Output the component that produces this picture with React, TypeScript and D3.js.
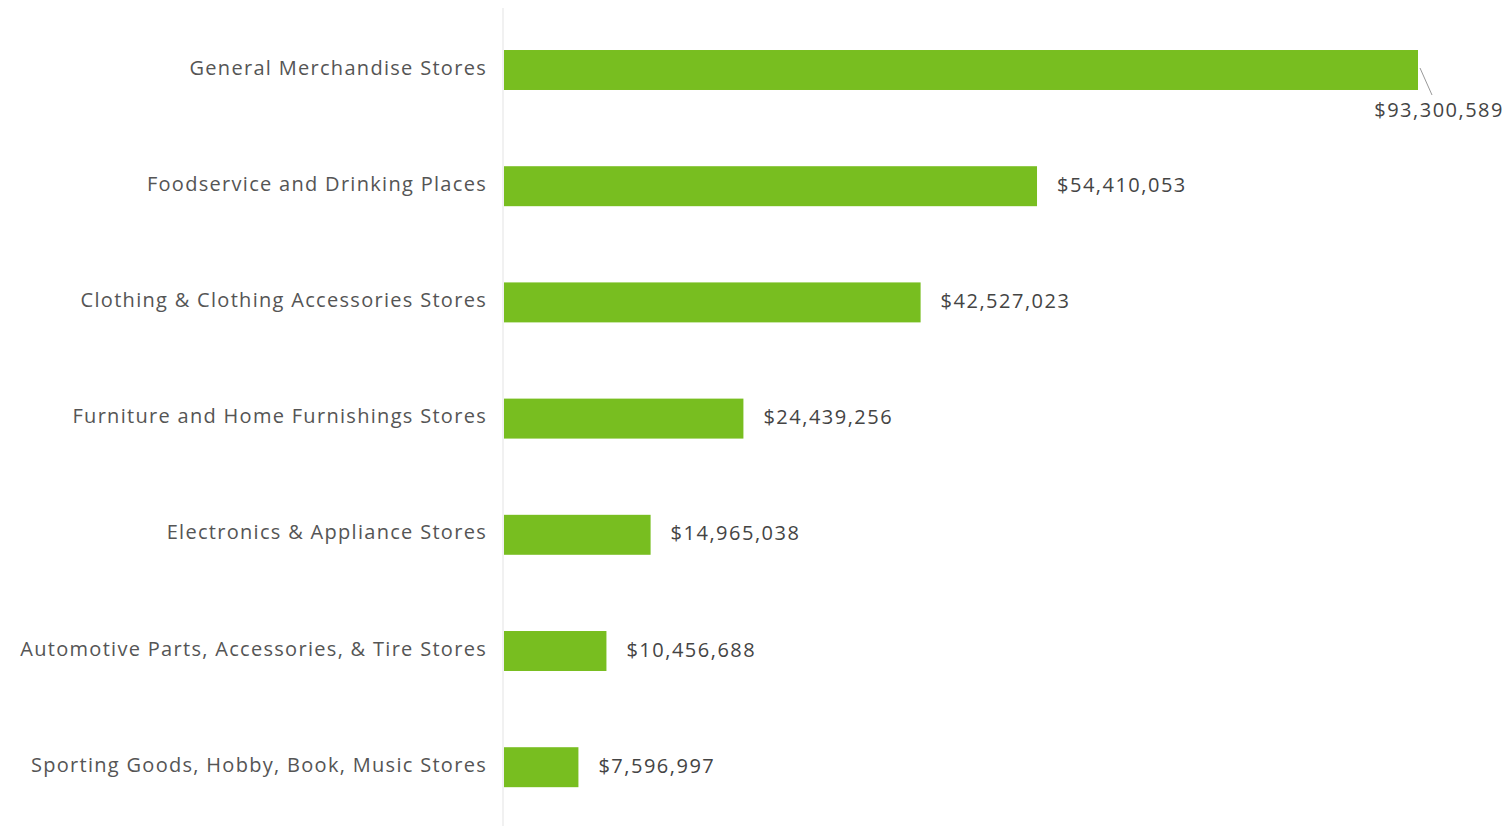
import React from "react";
import * as d3 from "d3";

const categories = [
  "General Merchandise Stores",
  "Foodservice and Drinking Places",
  "Clothing & Clothing Accessories Stores",
  "Furniture and Home Furnishings Stores",
  "Electronics & Appliance Stores",
  "Automotive Parts, Accessories, & Tire Stores",
  "Sporting Goods, Hobby, Book, Music Stores",
];
const values = [93300589, 54410053, 42527023, 24439256, 14965038, 10456688, 7596997];

const W = 1509;
const H = 826;
const x0 = 504;
const fmt = (v: number) => "$" + d3.format(",")(v);

export default function App() {
  const x = d3.scaleLinear().domain([0, 93300589]).range([x0, 1418]);
  const y = d3
    .scaleBand<string>()
    .domain(categories)
    .range([11.9, 825.3])
    .paddingInner(0.656)
    .paddingOuter(0.328);
  const font = "'Open Sans', Lato, sans-serif";
  return (
    <svg
      width={W}
      height={H}
      style={{ position: "absolute", left: 0, top: 0, background: "#fff" }}
      fontFamily={font}
    >
      <line x1={503} x2={503} y1={8} y2={H} stroke="#ececec" strokeWidth={1.5} />
      {categories.map((c, i) => {
        const yb = y(c)!;
        const bw = y.bandwidth();
        const xe = x(values[i]);
        const cy = yb + bw / 2;
        const first = i === 0;
        return (
          <g key={c}>
            <text
              x={487}
              y={cy - 3}
              textAnchor="end"
              dominantBaseline="central"
              fontSize={20}
              letterSpacing={1.3}
              fill="#555"
            >
              {c}
            </text>
            <rect x={x0} y={yb} width={xe - x0} height={bw} fill="#78BE20" />
            {first ? (
              <g>
                <line x1={xe + 2} y1={cy - 2} x2={xe + 14} y2={cy + 25} stroke="#999" strokeWidth={1} />
                <text
                  x={1504}
                  y={cy + 39}
                  textAnchor="end"
                  dominantBaseline="central"
                  fontSize={20}
                  letterSpacing={1.5}
                  fill="#444"
                >
                  {fmt(values[i])}
                </text>
              </g>
            ) : (
              <text
                x={xe + 20}
                y={cy - 2}
                dominantBaseline="central"
                fontSize={20}
                letterSpacing={1.5}
                fill="#444"
              >
                {fmt(values[i])}
              </text>
            )}
          </g>
        );
      })}
    </svg>
  );
}
